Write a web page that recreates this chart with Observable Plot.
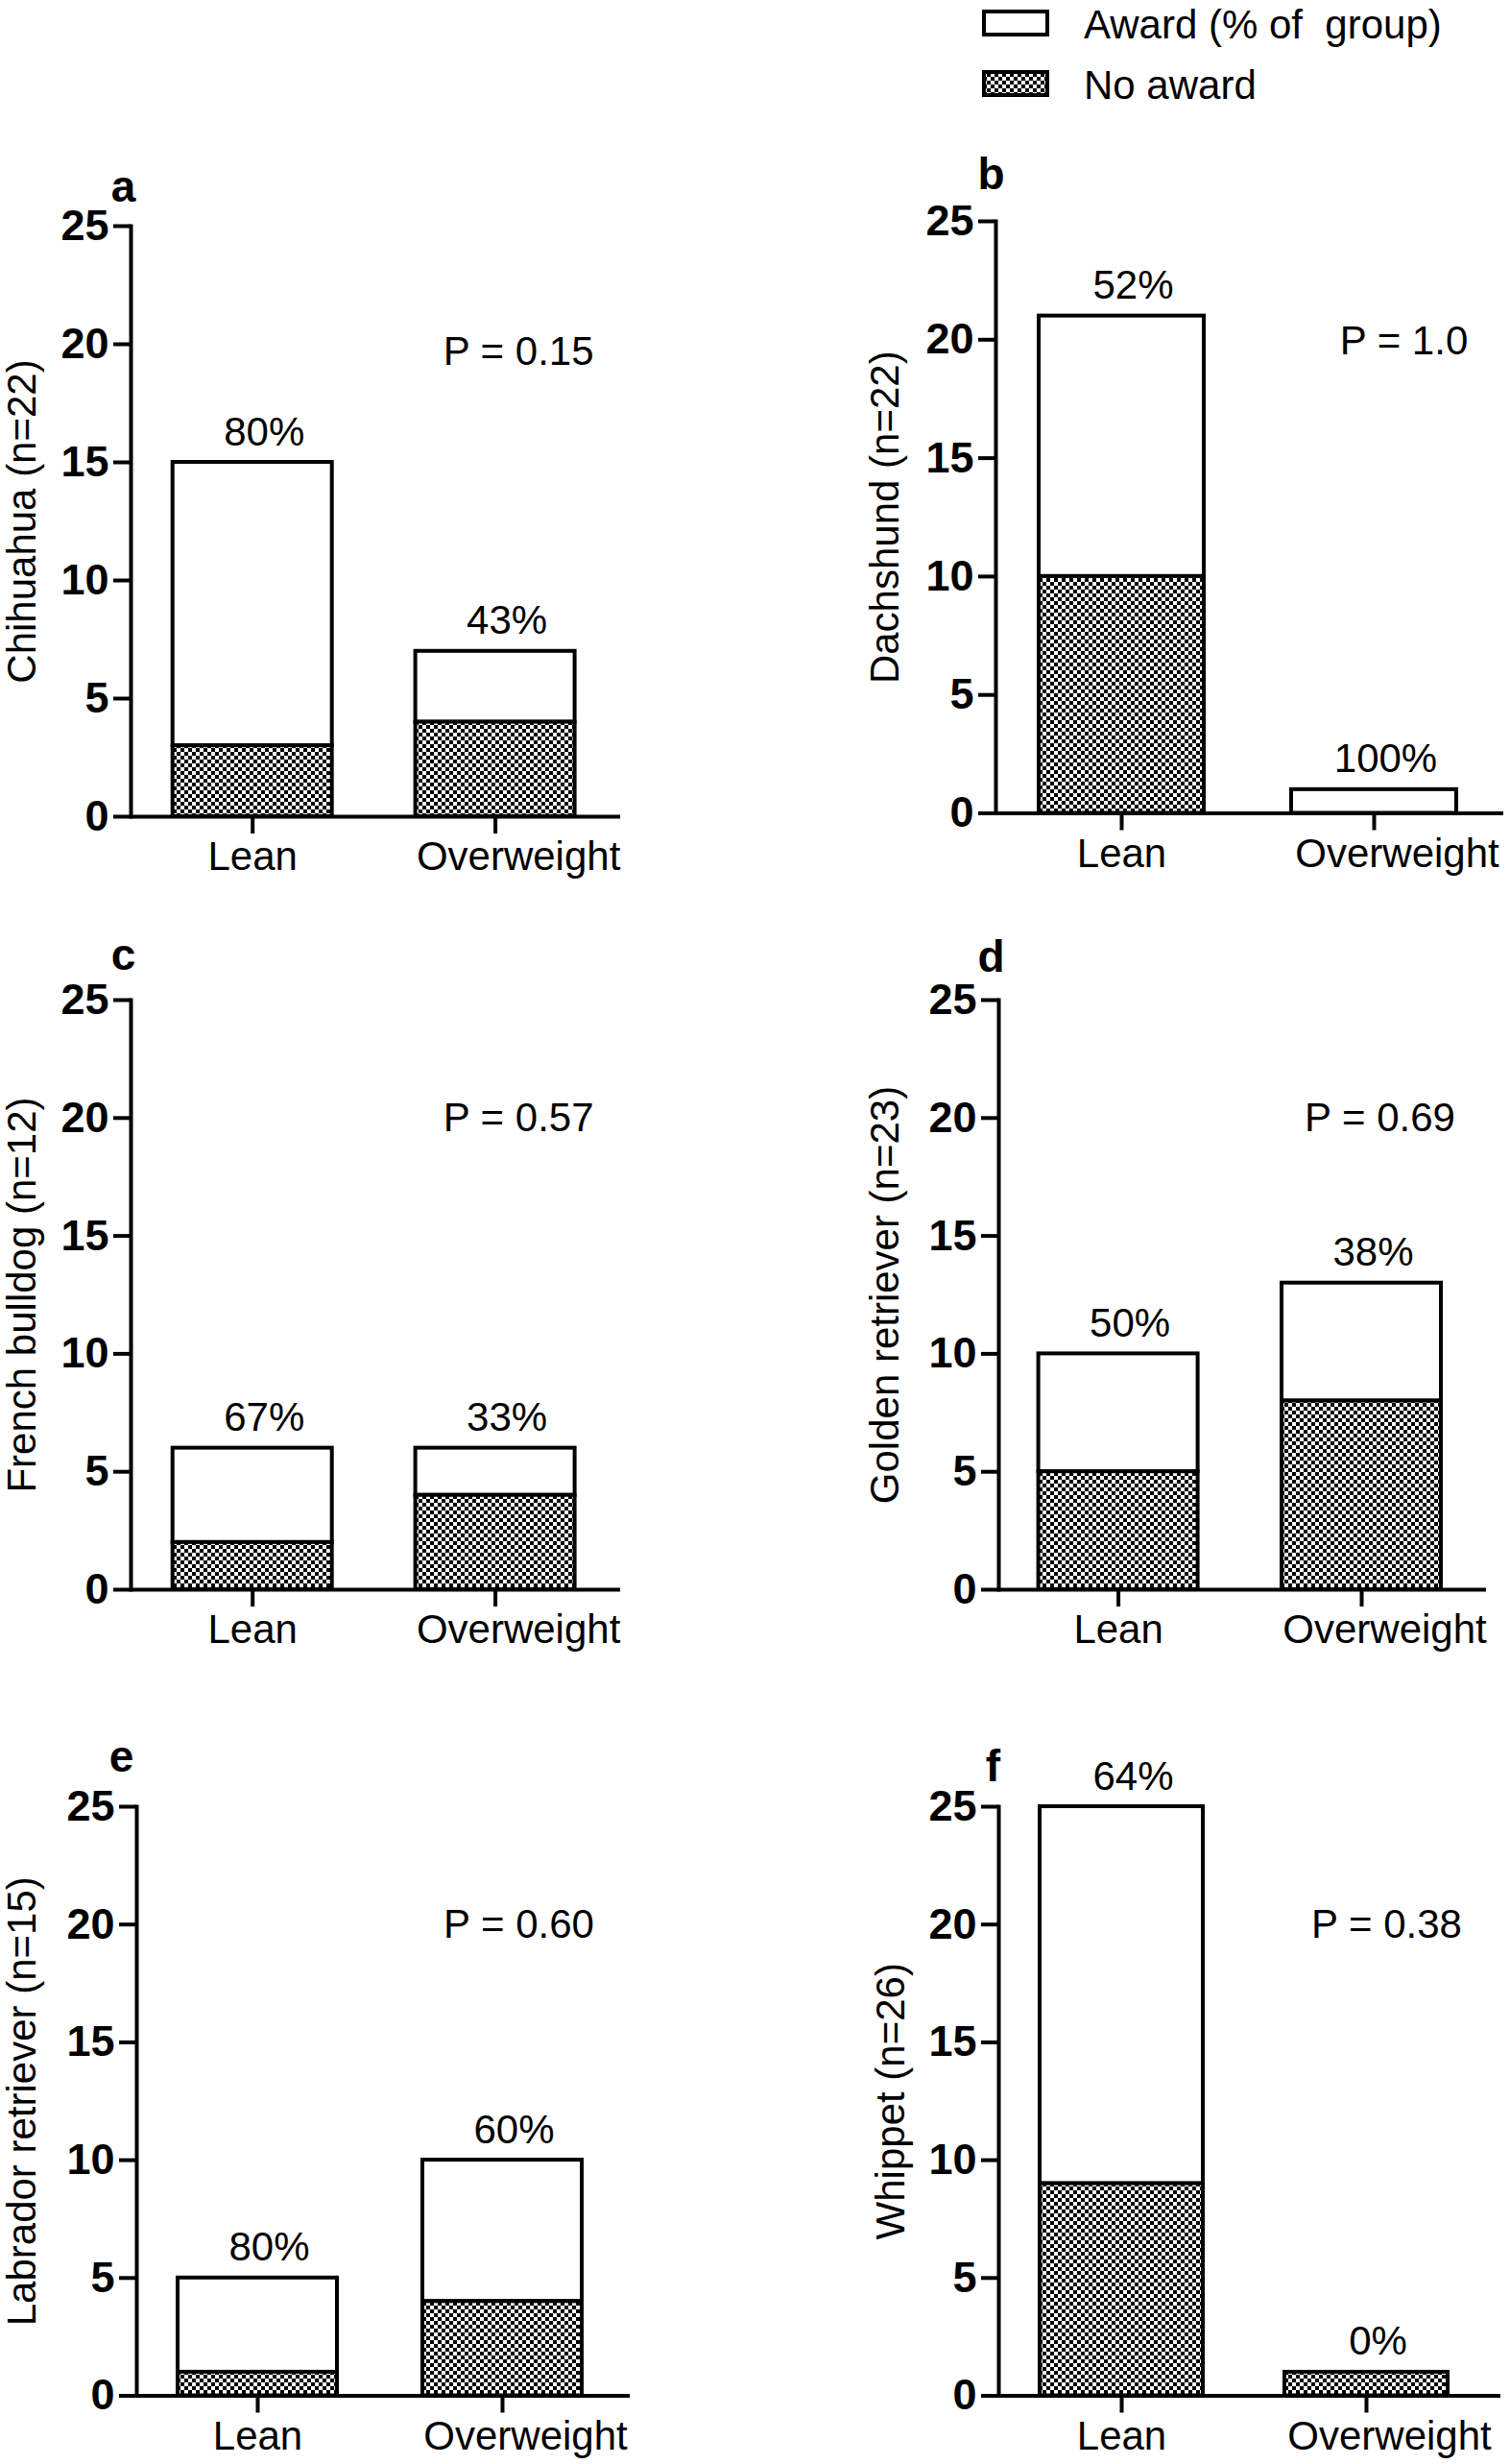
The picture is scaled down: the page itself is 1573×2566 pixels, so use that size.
<!DOCTYPE html>
<html>
<head>
<meta charset="utf-8">
<script src="https://cdn.jsdelivr.net/npm/d3@7"></script>
<script src="https://cdn.jsdelivr.net/npm/@observablehq/plot@0.6"></script>
<style>
  html, body { margin: 0; padding: 0; background: white; }
  #page { position: relative; width: 1573px; height: 2566px; overflow: hidden; font-family: "Liberation Sans", Arial, sans-serif; }
  .panel { position: absolute; }
  .panel svg { display: block; }
</style>
</head>
<body>
<div id="page"></div>
<script>
// ---------------- data ----------------
const panelLetters = ["a", "b", "c", "d", "e", "f"];
const breeds = ["Chihuahua", "Dachshund", "French bulldog", "Golden retriever", "Labrador retriever", "Whippet"];
const breedN = [22, 22, 12, 23, 15, 26];
const groups = ["Lean", "Overweight"];
const noAward = [[3, 4], [10, 0], [2, 4], [5, 8], [1, 4], [9, 1]];
const award = [[12, 3], [11, 1], [4, 2], [5, 5], [4, 6], [16, 0]];
const awardPct = [["80%", "43%"], ["52%", "100%"], ["67%", "33%"], ["50%", "38%"], ["80%", "60%"], ["64%", "0%"]];
const pValues = ["P = 0.15", "P = 1.0", "P = 0.57", "P = 0.69", "P = 0.60", "P = 0.38"];
const pLabelY = 20;
const yTicks = [0, 5, 10, 15, 20, 25];
const yDomain = [0, 25];
const legendLabels = ["Award (% of  group)", "No award"];

// ---------------- layout (page pixels) ----------------
const layout = [
  {col: 0, axisX: 136,  axisEnd: 646,  y25: 235,  y0: 850,    c0: 262.7,  c1: 515.6, bw: 170, letterDx: -8,  letterDy: -26, labelDx: -113, pDx: 24, pDy: 8},
  {col: 1, axisX: 1037, axisEnd: 1566, y25: 230,  y0: 846.5,  c0: 1168,   c1: 1431,  bw: 176, letterDx: -5,  letterDy: -34, labelDx: -115, pDx: 31, pDy: 2},
  {col: 0, axisX: 136,  axisEnd: 646,  y25: 1041, y0: 1655,   c0: 262.7,  c1: 515.6, bw: 170, letterDx: -8,  letterDy: -32, labelDx: -113, pDx: 24, pDy: 0},
  {col: 1, axisX: 1040, axisEnd: 1548, y25: 1041, y0: 1655,   c0: 1164.6, c1: 1418,  bw: 170, letterDx: -8,  letterDy: -30, labelDx: -118, pDx: 19, pDy: 0},
  {col: 0, axisX: 142,  axisEnd: 656,  y25: 1881, y0: 2494.5, c0: 268,    c1: 523,   bw: 170, letterDx: -16, letterDy: -37, labelDx: -119, pDx: 17, pDy: 0},
  {col: 1, axisX: 1040, axisEnd: 1563, y25: 1881, y0: 2494.5, c0: 1168,   c1: 1423,  bw: 174, letterDx: -6,  letterDy: -27, labelDx: -112, pDx: 21, pDy: 0}
];
const colLeft = [0, 786];
const colWidth = [786, 787];
const FONT = "'Liberation Sans', Arial, Helvetica, sans-serif";
const SW = 4;
const overweightLabelShift = 24;
const pctShift = 12;

function addChecker(svg, id) {
  const period = 8, sq = 4;
  const defs = d3.select(svg).insert("defs", ":first-child");
  const pat = defs.append("pattern")
    .attr("id", id).attr("patternUnits", "userSpaceOnUse")
    .attr("width", period).attr("height", period);
  pat.append("rect").attr("width", period).attr("height", period).attr("fill", "white");
  pat.append("rect").attr("x", 0).attr("y", 0).attr("width", sq).attr("height", sq).attr("fill", "black");
  pat.append("rect").attr("x", period / 2).attr("y", period / 2).attr("width", sq).attr("height", sq).attr("fill", "black");
}

const page = document.getElementById("page");

layout.forEach((L, i) => {
  const left = colLeft[L.col];
  const width = colWidth[L.col];
  const mTop = 100, mBottom = 80;
  const top = L.y25 - mTop;
  const height = (L.y0 - L.y25) + mTop + mBottom;
  const step = L.c1 - L.c0;
  const p = 1 - (L.bw - SW) / step;
  const patId = `checker-${panelLetters[i]}`;

  const rows = groups.map((g, j) => ({
    group: g,
    no: noAward[i][j],
    aw: award[i][j],
    total: noAward[i][j] + award[i][j],
    pct: awardPct[i][j]
  }));

  const svg = Plot.plot({
    width, height,
    marginLeft: L.axisX - left,
    marginRight: left + width - L.axisEnd,
    marginTop: mTop,
    marginBottom: mBottom,
    style: {fontFamily: FONT, background: "transparent", overflow: "visible", maxWidth: "none", color: "black"},
    x: {type: "band", domain: groups, range: [L.c0 - step / 2 - left, L.c1 + step / 2 - left], paddingInner: p, paddingOuter: p / 2, round: false},
    y: {domain: yDomain},
    marks: [
      Plot.barY(rows.filter(d => d.aw > 0), {x: "group", y1: "no", y2: "total", fill: "white", stroke: "black", strokeWidth: SW}),
      Plot.barY(rows.filter(d => d.no > 0), {x: "group", y1: () => 0, y2: "no", fill: `url(#${patId})`, stroke: "black", strokeWidth: SW}),
      Plot.ruleY([0], {stroke: "black", strokeWidth: SW}),
      Plot.frame({anchor: "left", stroke: "black", strokeWidth: SW, strokeLinecap: "square"}),
      Plot.axisY({ticks: yTicks, tickSize: 18, tickPadding: 5, fontSize: 45, fontWeight: "bold", strokeWidth: SW, label: null}),
      Plot.axisX({tickSize: 18, strokeWidth: SW, tickFormat: () => "", label: null}),
      Plot.axisX([groups[0]], {tickSize: 0, tickPadding: 26, fontSize: 42, label: null}),
      Plot.axisX([groups[1]], {tickSize: 0, tickPadding: 26, dx: overweightLabelShift, fontSize: 42, label: null}),
      Plot.text(rows, {x: "group", y: "total", text: "pct", lineAnchor: "bottom", dy: -18, dx: pctShift, fontSize: 42}),
      Plot.text([pValues[i]], {x: () => groups[1], y: () => pLabelY, text: d => d, dx: L.pDx, dy: L.pDy, fontSize: 42, lineAnchor: "middle"}),
      Plot.text([panelLetters[i]], {frameAnchor: "top-left", text: d => d, dx: L.letterDx, dy: L.letterDy, fontSize: 46, fontWeight: "bold", lineAnchor: "bottom", textAnchor: "middle"}),
      Plot.text([`${breeds[i]} (n=${breedN[i]})`], {frameAnchor: "left", text: d => d, rotate: -90, dx: L.labelDx, fontSize: 42, lineAnchor: "middle", textAnchor: "middle"})
    ]
  });
  addChecker(svg, patId);

  const div = document.createElement("div");
  div.className = "panel";
  div.style.left = left + "px";
  div.style.top = top + "px";
  div.appendChild(svg);
  page.appendChild(div);
});

// ---------------- legend ----------------
{
  const lg = d3.create("svg")
    .attr("width", 573).attr("height", 115)
    .style("position", "absolute").style("left", "1000px").style("top", "0px")
    .style("font-family", FONT);
  addChecker(lg.node(), "checker-legend");
  const rowsY = [24, 87];
  legendLabels.forEach((lab, k) => {
    lg.append("rect")
      .attr("x", 25).attr("y", rowsY[k] - 12).attr("width", 66).attr("height", 24)
      .attr("fill", k === 0 ? "white" : "url(#checker-legend)")
      .attr("stroke", "black").attr("stroke-width", SW);
    lg.append("text")
      .attr("x", 129).attr("y", rowsY[k]).attr("dy", "0.38em")
      .attr("font-size", 42).attr("fill", "black")
      .style("white-space", "pre")
      .attr("xml:space", "preserve")
      .text(lab);
  });
  page.appendChild(lg.node());
}
</script>
</body>
</html>
